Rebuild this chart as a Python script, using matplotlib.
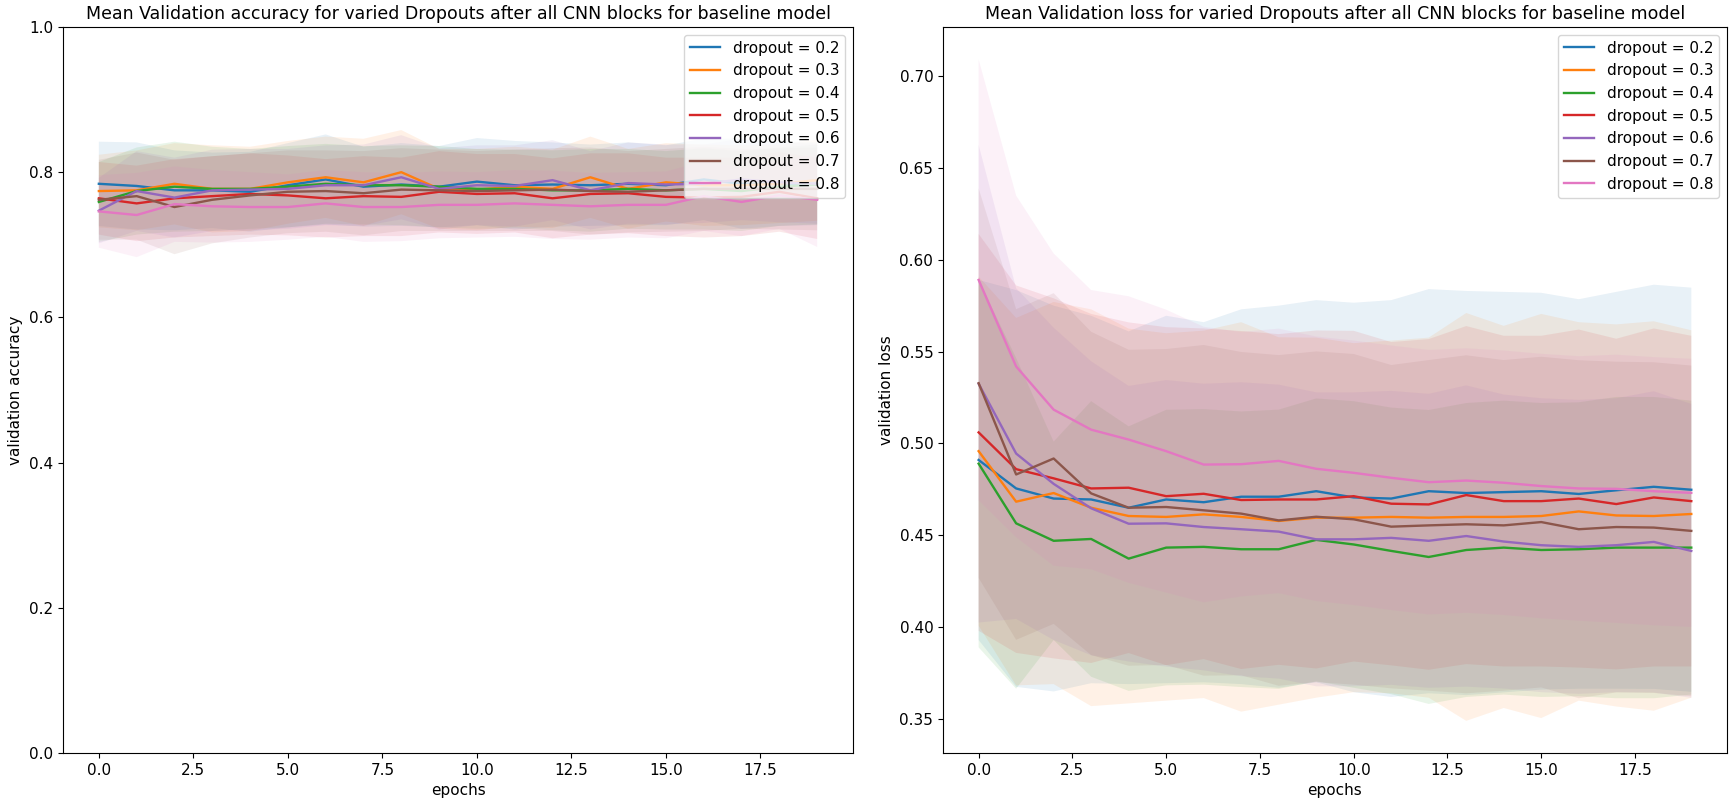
import matplotlib
matplotlib.use('Agg')
import matplotlib.pyplot as plt
import numpy as np

epochs = list(range(20))
dropouts = [0.2, 0.3, 0.4, 0.5, 0.6, 0.7, 0.8]

# mean validation accuracy per dropout
acc_mean = [
    [0.784, 0.781, 0.775, 0.775, 0.773, 0.782, 0.790, 0.780, 0.783, 0.780, 0.787, 0.782, 0.783, 0.782, 0.784, 0.782, 0.790, 0.784, 0.784, 0.784],
    [0.774, 0.775, 0.784, 0.777, 0.777, 0.786, 0.793, 0.786, 0.800, 0.777, 0.776, 0.780, 0.777, 0.793, 0.777, 0.786, 0.782, 0.782, 0.784, 0.789],
    [0.759, 0.774, 0.780, 0.777, 0.777, 0.780, 0.784, 0.782, 0.782, 0.780, 0.777, 0.777, 0.775, 0.775, 0.777, 0.775, 0.777, 0.774, 0.780, 0.783],
    [0.764, 0.757, 0.764, 0.767, 0.770, 0.768, 0.764, 0.767, 0.766, 0.773, 0.770, 0.771, 0.764, 0.770, 0.771, 0.766, 0.765, 0.766, 0.773, 0.764],
    [0.747, 0.774, 0.765, 0.775, 0.776, 0.777, 0.782, 0.782, 0.793, 0.777, 0.782, 0.781, 0.789, 0.775, 0.785, 0.783, 0.784, 0.790, 0.786, 0.784],
    [0.762, 0.767, 0.752, 0.762, 0.768, 0.773, 0.774, 0.771, 0.776, 0.775, 0.774, 0.775, 0.776, 0.774, 0.773, 0.775, 0.777, 0.777, 0.777, 0.777],
    [0.746, 0.741, 0.756, 0.753, 0.752, 0.752, 0.757, 0.752, 0.752, 0.755, 0.755, 0.757, 0.755, 0.753, 0.755, 0.755, 0.767, 0.759, 0.768, 0.762],
]
acc_std = [
    [0.058, 0.060, 0.055, 0.052, 0.055, 0.058, 0.062, 0.055, 0.057, 0.056, 0.060, 0.061, 0.058, 0.056, 0.057, 0.055, 0.056, 0.062, 0.058, 0.057],
    [0.050, 0.055, 0.056, 0.060, 0.058, 0.057, 0.056, 0.060, 0.058, 0.055, 0.056, 0.055, 0.054, 0.056, 0.055, 0.054, 0.056, 0.055, 0.054, 0.056],
    [0.055, 0.060, 0.062, 0.058, 0.055, 0.056, 0.055, 0.054, 0.055, 0.056, 0.055, 0.054, 0.055, 0.057, 0.055, 0.054, 0.056, 0.055, 0.054, 0.055],
    [0.050, 0.052, 0.054, 0.055, 0.056, 0.055, 0.054, 0.055, 0.054, 0.056, 0.055, 0.054, 0.055, 0.056, 0.055, 0.054, 0.055, 0.054, 0.055, 0.056],
    [0.045, 0.055, 0.055, 0.056, 0.056, 0.055, 0.055, 0.056, 0.058, 0.056, 0.055, 0.056, 0.055, 0.054, 0.056, 0.055, 0.054, 0.056, 0.055, 0.055],
    [0.055, 0.060, 0.065, 0.060, 0.058, 0.057, 0.056, 0.058, 0.057, 0.056, 0.055, 0.056, 0.057, 0.060, 0.056, 0.057, 0.058, 0.055, 0.056, 0.057],
    [0.050, 0.058, 0.052, 0.050, 0.048, 0.045, 0.046, 0.048, 0.047, 0.046, 0.045, 0.046, 0.047, 0.046, 0.045, 0.046, 0.048, 0.047, 0.046, 0.065],
]

# mean validation loss per dropout
loss_mean = [
    [0.491, 0.4755, 0.470, 0.4695, 0.465, 0.4695, 0.468, 0.471, 0.471, 0.474, 0.4706, 0.470, 0.474, 0.473, 0.4735, 0.474, 0.4725, 0.4745, 0.4764, 0.4748],
    [0.4958, 0.4683, 0.473, 0.465, 0.4605, 0.460, 0.4614, 0.460, 0.4578, 0.4596, 0.4596, 0.460, 0.4596, 0.460, 0.460, 0.4605, 0.463, 0.4608, 0.4605, 0.4616],
    [0.489, 0.4565, 0.447, 0.448, 0.4373, 0.4433, 0.4437, 0.4424, 0.4424, 0.4475, 0.445, 0.4415, 0.4382, 0.442, 0.4433, 0.442, 0.4424, 0.4433, 0.4433, 0.4433],
    [0.506, 0.486, 0.481, 0.4755, 0.4759, 0.4713, 0.4726, 0.4692, 0.4695, 0.4695, 0.4713, 0.4672, 0.4668, 0.4719, 0.4686, 0.4686, 0.470, 0.467, 0.4706, 0.4686],
    [0.5325, 0.4945, 0.478, 0.4647, 0.4563, 0.4565, 0.4545, 0.4533, 0.452, 0.4478, 0.4478, 0.4486, 0.447, 0.4496, 0.4466, 0.4446, 0.4437, 0.4446, 0.4464, 0.4415],
    [0.5328, 0.4831, 0.4918, 0.4728, 0.465, 0.4654, 0.4636, 0.4618, 0.4581, 0.4601, 0.4587, 0.4547, 0.4554, 0.456, 0.4554, 0.4572, 0.4533, 0.4545, 0.4542, 0.4524],
    [0.589, 0.5419, 0.5184, 0.5075, 0.5021, 0.4958, 0.4885, 0.4887, 0.4905, 0.4862, 0.484, 0.4813, 0.4789, 0.4798, 0.4786, 0.4768, 0.4755, 0.4753, 0.474, 0.4731],
]
loss_std = [
    [0.098, 0.108, 0.105, 0.100, 0.096, 0.100, 0.098, 0.102, 0.104, 0.104, 0.106, 0.108, 0.110, 0.110, 0.109, 0.108, 0.106, 0.108, 0.110, 0.110],
    [0.095, 0.100, 0.104, 0.108, 0.102, 0.100, 0.100, 0.106, 0.100, 0.098, 0.095, 0.096, 0.098, 0.111, 0.104, 0.110, 0.103, 0.104, 0.106, 0.100],
    [0.100, 0.090, 0.054, 0.075, 0.072, 0.075, 0.075, 0.075, 0.076, 0.077, 0.078, 0.078, 0.080, 0.080, 0.080, 0.080, 0.080, 0.082, 0.082, 0.080],
    [0.108, 0.100, 0.098, 0.095, 0.090, 0.092, 0.090, 0.092, 0.090, 0.092, 0.090, 0.088, 0.090, 0.092, 0.090, 0.090, 0.092, 0.090, 0.092, 0.090],
    [0.130, 0.090, 0.085, 0.080, 0.075, 0.078, 0.078, 0.080, 0.080, 0.080, 0.080, 0.080, 0.080, 0.082, 0.080, 0.080, 0.080, 0.080, 0.082, 0.080],
    [0.106, 0.090, 0.090, 0.088, 0.086, 0.086, 0.090, 0.088, 0.090, 0.090, 0.090, 0.088, 0.090, 0.092, 0.090, 0.090, 0.092, 0.090, 0.090, 0.090],
    [0.120, 0.093, 0.085, 0.076, 0.078, 0.077, 0.075, 0.072, 0.072, 0.072, 0.072, 0.072, 0.072, 0.072, 0.072, 0.072, 0.072, 0.073, 0.073, 0.073],
]

plt.rcParams['font.family'] = 'DejaVu Sans'
plt.rcParams['font.size'] = 11

fig = plt.figure(figsize=(17.29, 7.98), dpi=100)
ax1 = fig.add_axes([0.0364, 0.0564, 0.457, 0.9098])
ax2 = fig.add_axes([0.5454, 0.0564, 0.4534, 0.9098])

x = np.array(epochs)
for i, d in enumerate(dropouts):
    m = np.array(acc_mean[i])
    s = np.array(acc_std[i])
    ax1.plot(x, m, lw=1.7, label='dropout = ' + str(d))
    ax1.fill_between(x, m - s, m + s, alpha=0.1)

    m = np.array(loss_mean[i])
    s = np.array(loss_std[i])
    ax2.plot(x, m, lw=1.7, label='dropout = ' + str(d))
    ax2.fill_between(x, m - s, m + s, alpha=0.1)

ax1.set_ylim(0, 1.0)
ax1.set_title('Mean Validation accuracy for varied Dropouts after all CNN blocks for baseline model', fontsize=12.5)
ax1.set_xlabel('epochs')
ax1.set_ylabel('validation accuracy')
ax1.legend(loc='upper right')

ax2.set_ylim(0.3315, 0.7267)
ax2.set_title('Mean Validation loss for varied Dropouts after all CNN blocks for baseline model', fontsize=12.5)
ax2.set_xlabel('epochs')
ax2.set_ylabel('validation loss')
ax2.legend(loc='upper right')

fig.savefig('out.png', dpi=100)
